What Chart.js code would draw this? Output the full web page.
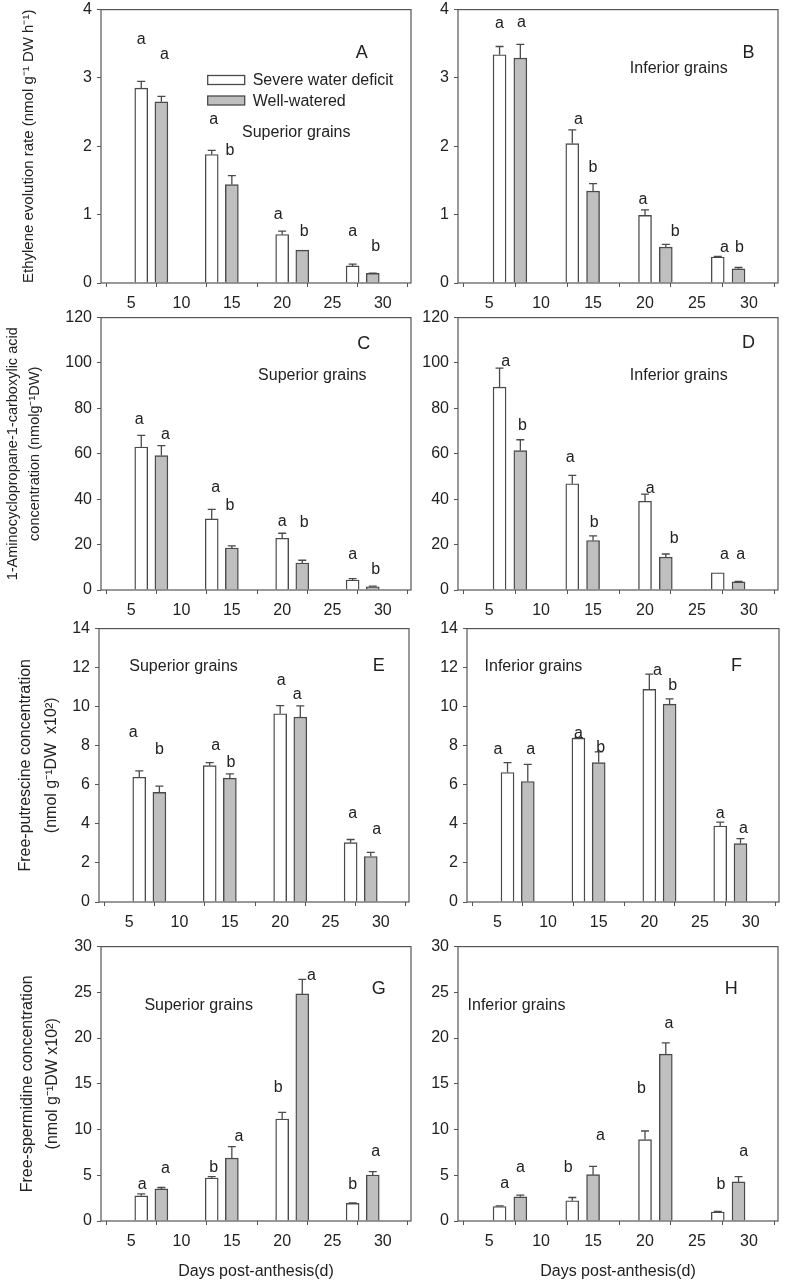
<!DOCTYPE html>
<html><head><meta charset="utf-8">
<script src="https://cdn.jsdelivr.net/npm/chart.js@4.4.0/dist/chart.umd.min.js"></script>
<style>
html,body{margin:0;padding:0;background:#fff;}
body{width:787px;height:1282px;position:relative;overflow:hidden;}
canvas{position:absolute;}
</style>
</head><body>
<script>
// ---------- DATA ----------
const deficitX = [6, 13, 20, 27];
const wellX = [8, 15, 22, 29];
const xTickLabels = [5, 10, 15, 20, 25, 30];
const seriesNames = ['Severe water deficit', 'Well-watered'];

const ethTicks = [0, 1, 2, 3, 4];
const accTicks = [0, 20, 40, 60, 80, 100, 120];
const putTicks = [0, 2, 4, 6, 8, 10, 12, 14];
const spdTicks = [0, 5, 10, 15, 20, 25, 30];

// A: ethylene, superior grains
const ethSupDeficit = [2.85, 1.88, 0.71, 0.25];
const ethSupDeficitSE = [0.10, 0.06, 0.05, 0.025];
const ethSupWell = [2.65, 1.44, 0.48, 0.14];
const ethSupWellSE = [0.08, 0.13, 0, 0.005];
const ethSupDeficitLetters = ['a', 'a', 'a', 'a'];
const ethSupWellLetters = ['a', 'b', 'b', 'b'];
const ethSupDeficitLetterPos = [[6.0, 3.57], [13.2, 2.41], [19.6, 1.02], [27.0, 0.77]];
const ethSupWellLetterPos = [[8.3, 3.35], [14.8, 1.95], [22.2, 0.77], [29.3, 0.55]];

// B: ethylene, inferior grains
const ethInfDeficit = [3.34, 2.04, 0.99, 0.38];
const ethInfDeficitSE = [0.12, 0.20, 0.08, 0.01];
const ethInfWell = [3.29, 1.345, 0.525, 0.207];
const ethInfWellSE = [0.20, 0.11, 0.04, 0.02];
const ethInfDeficitLetters = ['a', 'a', 'a', 'a'];
const ethInfWellLetters = ['a', 'b', 'b', 'b'];
const ethInfDeficitLetterPos = [[6.0, 3.81], [13.6, 2.40], [19.8, 1.23], [27.65, 0.53]];
const ethInfWellLetterPos = [[8.1, 3.83], [15.0, 1.70], [22.9, 0.77], [29.1, 0.53]];

// C: ACC, superior grains
const accSupDeficit = [63.0, 31.3, 22.8, 4.4];
const accSupDeficitSE = [5.1, 4.2, 2.2, 0.6];
const accSupWell = [59.2, 18.5, 11.9, 1.45];
const accSupWellSE = [4.4, 0.9, 1.2, 0.3];
const accSupDeficitLetters = ['a', 'a', 'a', 'a'];
const accSupWellLetters = ['a', 'b', 'b', 'b'];
const accSupDeficitLetterPos = [[5.8, 75.6], [13.4, 45.4], [20.0, 30.5], [27.0, 16]];
const accSupWellLetterPos = [[8.4, 69.1], [14.8, 37.5], [22.2, 30.2], [29.3, 9.5]];

// D: ACC, inferior grains
const accInfDeficit = [89.4, 46.8, 39.1, 7.6];
const accInfDeficitSE = [8.3, 3.7, 3.1, 0];
const accInfWell = [61.4, 21.8, 14.5, 3.6];
const accInfWellSE = [4.8, 2.0, 1.35, 0.2];
const accInfDeficitLetters = ['a', 'a', 'a', 'a'];
const accInfWellLetters = ['b', 'b', 'b', 'a'];
const accInfDeficitLetterPos = [[6.6, 101], [12.8, 58.9], [20.5, 44.9], [27.65, 16]];
const accInfWellLetterPos = [[8.2, 72.7], [15.1, 30.3], [22.8, 23], [29.2, 16]];

// E: putrescine, superior grains
const putSupDeficit = [6.39, 6.98, 9.64, 3.04];
const putSupDeficitSE = [0.32, 0.16, 0.42, 0.16];
const putSupWell = [5.61, 6.34, 9.47, 2.33];
const putSupWellSE = [0.32, 0.22, 0.57, 0.21];
const putSupDeficitLetters = ['a', 'a', 'a', 'a'];
const putSupWellLetters = ['b', 'b', 'a', 'a'];
const putSupDeficitLetterPos = [[5.4, 8.74], [13.6, 8.08], [20.1, 11.41], [27.2, 4.57]];
const putSupWellLetterPos = [[8.0, 7.86], [15.1, 7.19], [21.7, 10.65], [29.6, 3.77]];

// F: putrescine, inferior grains
const putInfDeficit = [6.63, 8.39, 10.89, 3.89];
const putInfDeficitSE = [0.51, 0.03, 0.78, 0.2];
const putInfWell = [6.17, 7.14, 10.13, 2.99];
const putInfWellSE = [0.88, 0.55, 0.27, 0.26];
const putInfDeficitLetters = ['a', 'a', 'a', 'a'];
const putInfWellLetters = ['a', 'b', 'b', 'a'];
const putInfDeficitLetterPos = [[5.06, 7.86], [13.0, 8.7], [20.8, 11.92], [27.0, 4.57]];
const putInfWellLetterPos = [[8.3, 7.86], [15.2, 7.95], [22.3, 11.13], [29.3, 3.8]];

// G: spermidine, superior grains
const spdSupDeficit = [2.75, 4.70, 11.15, 1.92];
const spdSupDeficitSE = [0.22, 0.15, 0.72, 0.07];
const spdSupWell = [3.51, 6.88, 24.83, 5.03];
const spdSupWellSE = [0.15, 1.26, 1.59, 0.36];
const spdSupDeficitLetters = ['a', 'b', 'b', 'b'];
const spdSupWellLetters = ['a', 'a', 'a', 'a'];
const spdSupDeficitLetterPos = [[6.1, 4.05], [13.2, 5.94], [19.6, 14.66], [27.0, 4.05]];
const spdSupWellLetterPos = [[8.4, 5.86], [15.7, 9.3], [22.9, 26.96], [29.3, 7.67]];

// H: spermidine, inferior grains
const spdInfDeficit = [1.59, 2.21, 8.90, 0.98];
const spdInfDeficitSE = [0.07, 0.36, 0.94, 0.07];
const spdInfWell = [2.64, 5.07, 18.24, 4.27];
const spdInfWellSE = [0.18, 0.9, 1.23, 0.58];
const spdInfDeficitLetters = ['a', 'b', 'b', 'b'];
const spdInfWellLetters = ['a', 'a', 'a', 'a'];
const spdInfDeficitLetterPos = [[6.5, 4.16], [12.6, 5.94], [19.65, 14.55], [27.3, 4.05]];
const spdInfWellLetterPos = [[8.0, 5.94], [15.7, 9.48], [22.3, 21.7], [29.5, 7.67]];

// ---------- STYLE / LAYOUT ----------
const FONT = "'Liberation Sans', Arial, Helvetica, sans-serif";
Chart.defaults.font.family = FONT;
Chart.defaults.font.size = 16;
Chart.defaults.color = '#222';
Chart.defaults.animation = false;

const axisColor = '#555555';
const barEdge = '#4a4a4a';
const grayFill = '#bfbfbf';

const framePlugin = {
  id: 'frame',
  afterDatasetsDraw(chart) {
    const {ctx, chartArea: a} = chart;
    ctx.save();
    ctx.strokeStyle = axisColor;
    ctx.lineWidth = 1.2;
    ctx.strokeRect(a.left, a.top, a.right - a.left, a.bottom - a.top);
    ctx.restore();
  }
};

const errPlugin = {
  id: 'errbars',
  afterDatasetsDraw(chart) {
    const ctx = chart.ctx, ys = chart.scales.y;
    ctx.save();
    ctx.strokeStyle = barEdge;
    ctx.lineWidth = 1.3;
    chart.data.datasets.forEach((ds, di) => {
      const meta = chart.getDatasetMeta(di);
      meta.data.forEach((bar, i) => {
        const se = ds.se[i];
        if (!se) return;
        const top = ys.getPixelForValue(ds.data[i].y + se);
        ctx.beginPath();
        ctx.moveTo(bar.x, bar.y);
        ctx.lineTo(bar.x, top);
        ctx.moveTo(bar.x - 4, top);
        ctx.lineTo(bar.x + 4, top);
        ctx.stroke();
      });
    });
    ctx.restore();
  }
};

const annotPlugin = {
  id: 'annot',
  afterDraw(chart, args, o) {
    const ctx = chart.ctx, xs = chart.scales.x, ys = chart.scales.y;
    ctx.save();
    ctx.fillStyle = '#222';
    ctx.textAlign = 'center';
    ctx.textBaseline = 'middle';
    ctx.font = '16px ' + FONT;
    chart.data.datasets.forEach(ds => {
      ds.letters.forEach((t, i) => {
        const p = ds.letterPos[i];
        ctx.fillText(t, xs.getPixelForValue(p[0]), ys.getPixelForValue(p[1]) + 1);
      });
    });
    ctx.font = '18px ' + FONT;
    ctx.fillText(o.panel, xs.getPixelForValue(o.panelPos[0]), ys.getPixelForValue(o.panelPos[1]));
    ctx.font = '16px ' + FONT;
    ctx.fillText(o.grain, xs.getPixelForValue(o.grainPos[0]), ys.getPixelForValue(o.grainPos[1]));
    if (o.legendPos) {
      const lx = xs.getPixelForValue(o.legendPos[0]);
      ctx.font = '16px ' + FONT;
      ctx.textAlign = 'left';
      chart.data.datasets.forEach((ds, i) => {
        const ly = ys.getPixelForValue(o.legendPos[1 + i]);
        ctx.fillStyle = ds.backgroundColor;
        ctx.fillRect(lx, ly - 4.5, 37, 9);
        ctx.strokeStyle = barEdge;
        ctx.lineWidth = 1.3;
        ctx.strokeRect(lx, ly - 4.5, 37, 9);
        ctx.fillStyle = '#222';
        ctx.fillText(ds.label, lx + 45, ly + 1);
      });
    }
    ctx.restore();
  }
};

function pts(xs, ys) { return xs.map((x, i) => ({x: x, y: ys[i]})); }

function makePanel(p) {
  const padTop = 12, padRight = 8;
  const cx = p.L - p.yW;
  const cy = p.T - padTop;
  const cw = p.R - cx + padRight;
  const ch = (p.B - p.T) + padTop + p.xH;
  const canvas = document.createElement('canvas');
  canvas.width = cw; canvas.height = ch;
  canvas.style.left = cx + 'px';
  canvas.style.top = cy + 'px';
  canvas.style.width = cw + 'px';
  canvas.style.height = ch + 'px';
  document.body.appendChild(canvas);
  new Chart(canvas, {
    type: 'bar',
    data: {
      datasets: [
        {label: seriesNames[0], data: pts(deficitX, p.def), se: p.defSE,
         letters: p.defL, letterPos: p.defLP,
         backgroundColor: '#ffffff', borderColor: barEdge, borderWidth: 1.4,
         barThickness: 13, grouped: false},
        {label: seriesNames[1], data: pts(wellX, p.well), se: p.wellSE,
         letters: p.wellL, letterPos: p.wellLP,
         backgroundColor: grayFill, borderColor: barEdge, borderWidth: 1.4,
         barThickness: 13, grouped: false}
      ]
    },
    options: {
      responsive: false,
      animation: false,
      events: [],
      layout: {padding: {left: 0, right: padRight, top: padTop, bottom: 0}},
      plugins: {
        legend: {display: false},
        tooltip: {enabled: false},
        annot: p.annot
      },
      scales: {
        x: {
          type: 'linear', min: 2, max: 32.8, offset: false,
          afterBuildTicks: s => { s.ticks = xTickLabels.map(v => ({value: v})); },
          afterFit: s => { s.height = p.xH; },
          border: {display: false},
          grid: {drawOnChartArea: false, drawTicks: true, tickLength: 4, color: axisColor, lineWidth: 1},
          ticks: {font: {size: 16}, color: '#222', padding: 7, maxRotation: 0, autoSkip: false},
          title: p.xTitle ? {display: true, text: 'Days post-anthesis(d)', font: {size: 16}, color: '#222', padding: {top: 0, bottom: 1}} : {display: false}
        },
        y: {
          min: p.yTicks[0], max: p.yTicks[p.yTicks.length - 1],
          afterBuildTicks: s => { s.ticks = p.yTicks.map(v => ({value: v})); },
          afterFit: s => { s.width = p.yW; },
          border: {display: false},
          grid: {drawOnChartArea: false, drawTicks: true, tickLength: 4, color: axisColor, lineWidth: 1},
          ticks: {font: {size: 16}, color: '#222', padding: 5, autoSkip: false},
          title: p.yTitle ? {display: true, text: p.yTitle, font: {size: p.yTitleSize, lineHeight: p.yTitleLH}, color: '#222', padding: {top: p.yTitlePad, bottom: 0}} : {display: false}
        }
      }
    },
    plugins: [framePlugin, errPlugin, annotPlugin]
  });
}

const panels = [
  {L: 101, T: 7, R: 411, B: 283, yW: 101, xH: 30, yTicks: ethTicks,
   def: ethSupDeficit, defSE: ethSupDeficitSE, well: ethSupWell, wellSE: ethSupWellSE,
   defL: ethSupDeficitLetters, wellL: ethSupWellLetters, defLP: ethSupDeficitLetterPos, wellLP: ethSupWellLetterPos,
   yTitle: 'Ethylene evolution rate (nmol g\u207B\u00B9 DW h\u207B\u00B9)', yTitleSize: 15, yTitleLH: 1.2, yTitlePad: 19.5,
   annot: {panel: 'A', panelPos: [27.9, 3.36], grain: 'Superior grains', grainPos: [21.4, 2.2], legendPos: [12.6, 2.97, 2.67]}},
  {L: 458, T: 7, R: 778, B: 283, yW: 50, xH: 30, yTicks: ethTicks,
   def: ethInfDeficit, defSE: ethInfDeficitSE, well: ethInfWell, wellSE: ethInfWellSE,
   defL: ethInfDeficitLetters, wellL: ethInfWellLetters, defLP: ethInfDeficitLetterPos, wellLP: ethInfWellLetterPos,
   annot: {panel: 'B', panelPos: [29.95, 3.36], grain: 'Inferior grains', grainPos: [23.25, 3.13]}},
  {L: 101, T: 315, R: 411, B: 590, yW: 101, xH: 30, yTicks: accTicks,
   def: accSupDeficit, defSE: accSupDeficitSE, well: accSupWell, wellSE: accSupWellSE,
   defL: accSupDeficitLetters, wellL: accSupWellLetters, defLP: accSupDeficitLetterPos, wellLP: accSupWellLetterPos,
   yTitle: ['1-Aminocyclopropane-1-carboxylic acid', 'concentration (nmolg\u207B\u00B9DW)'], yTitleSize: 14.5, yTitleLH: 1.5, yTitlePad: 2.5,
   annot: {panel: 'C', panelPos: [28.1, 108.4], grain: 'Superior grains', grainPos: [23.0, 94.3]}},
  {L: 458, T: 315, R: 778, B: 590, yW: 50, xH: 30, yTicks: accTicks,
   def: accInfDeficit, defSE: accInfDeficitSE, well: accInfWell, wellSE: accInfWellSE,
   defL: accInfDeficitLetters, wellL: accInfWellLetters, defLP: accInfDeficitLetterPos, wellLP: accInfWellLetterPos,
   annot: {panel: 'D', panelPos: [29.95, 108.8], grain: 'Inferior grains', grainPos: [23.25, 94.5]}},
  {L: 99, T: 626, R: 409, B: 902, yW: 99, xH: 30, yTicks: putTicks,
   def: putSupDeficit, defSE: putSupDeficitSE, well: putSupWell, wellSE: putSupWellSE,
   defL: putSupDeficitLetters, wellL: putSupWellLetters, defLP: putSupDeficitLetterPos, wellLP: putSupWellLetterPos,
   yTitle: ['Free-putrescine concentration', '(nmol g\u207B\u00B9DW  x10\u00B2)'], yTitleSize: 16, yTitleLH: 1.6, yTitlePad: 13,
   annot: {panel: 'E', panelPos: [29.8, 12.09], grain: 'Superior grains', grainPos: [10.4, 12.04]}},
  {L: 467, T: 626, R: 779, B: 902, yW: 50, xH: 30, yTicks: putTicks,
   def: putInfDeficit, defSE: putInfDeficitSE, well: putInfWell, wellSE: putInfWellSE,
   defL: putInfDeficitLetters, wellL: putInfWellLetters, defLP: putInfDeficitLetterPos, wellLP: putInfWellLetterPos,
   annot: {panel: 'F', panelPos: [28.6, 12.09], grain: 'Inferior grains', grainPos: [8.56, 12.04]}},
  {L: 101, T: 944, R: 411, B: 1221, yW: 101, xH: 61, xTitle: true, yTicks: spdTicks,
   def: spdSupDeficit, defSE: spdSupDeficitSE, well: spdSupWell, wellSE: spdSupWellSE,
   defL: spdSupDeficitLetters, wellL: spdSupWellLetters, defLP: spdSupDeficitLetterPos, wellLP: spdSupWellLetterPos,
   yTitle: ['Free-spermidine concentration', '(nmol g\u207B\u00B9DW x10\u00B2)'], yTitleSize: 16, yTitleLH: 1.6, yTitlePad: 14.5,
   annot: {panel: 'G', panelPos: [29.6, 25.4], grain: 'Superior grains', grainPos: [11.7, 23.5]}},
  {L: 458, T: 944, R: 778, B: 1221, yW: 50, xH: 61, xTitle: true, yTicks: spdTicks,
   def: spdInfDeficit, defSE: spdInfDeficitSE, well: spdInfWell, wellSE: spdInfWellSE,
   defL: spdInfDeficitLetters, wellL: spdInfWellLetters, defLP: spdInfDeficitLetterPos, wellLP: spdInfWellLetterPos,
   annot: {panel: 'H', panelPos: [28.3, 25.4], grain: 'Inferior grains', grainPos: [7.63, 23.5]}}
];

panels.forEach(makePanel);
</script>
</body></html>
